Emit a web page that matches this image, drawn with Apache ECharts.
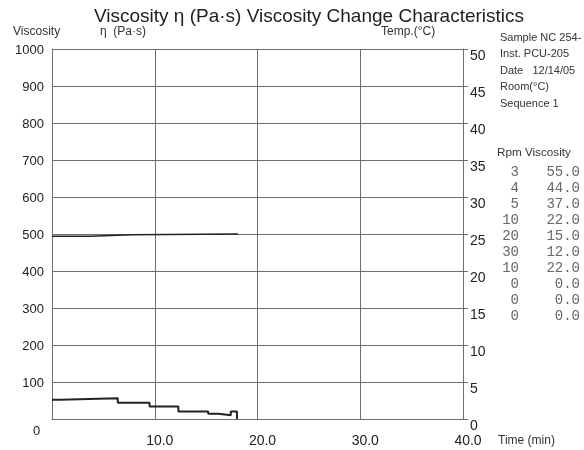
<!DOCTYPE html>
<html>
<head>
<meta charset="utf-8">
<script src="https://cdn.jsdelivr.net/npm/echarts@6/dist/echarts.min.js"></script>
<style>html,body{margin:0;padding:0;background:#fff}#c{width:584px;height:450px}</style>
</head>
<body>
<div id="c"></div>
<script>
// Viscosity step trace: change times (min) and the new viscosity (Pa·s) from that time on
var viscTime = [0, 0.8, 6.4, 9.5, 12.3, 15.2, 16.2, 17.4, 18.0];
var viscValue = [52, 56, 44, 34, 20, 14, 10, 20, 0];
// Temperature trace: change times (min) and °C
var tempTime = [0, 3.7, 7.8, 18.1];
var tempValue = [24.7, 24.9, 25.0, 25.0];
// Axis tick labels
var xTickLabels = ['', '10.0', '20.0', '30.0', '40.0'];
// Side info
var infoLines = ['Sample NC 254-', 'Inst. PCU-205', 'Date   12/14/05', 'Room(°C)', 'Sequence 1'];
var tableRpm = ['3', '4', '5', '10', '20', '30', '10', '0', '0', '0'];
var tableVisc = ['55.0', '44.0', '37.0', '22.0', '15.0', '12.0', '22.0', '0.0', '0.0', '0.0'];

function stepPoints(times, values) {
  var pts = [];
  for (var i = 0; i < times.length; i++) {
    if (i > 0) pts.push([times[i], values[i - 1]]);
    pts.push([times[i], values[i]]);
  }
  return pts;
}

var chart = echarts.init(document.getElementById('c'));
var FONT = 'Liberation Sans, Arial, sans-serif';
var MONO = 'Liberation Mono, DejaVu Sans Mono, monospace';
var gridColor = '#6e6e6e';

var graphics = [
  {type:'text', x: 309, y: 7, style:{text:'Viscosity η (Pa·s) Viscosity Change Characteristics', font:'19px ' + FONT, fill:'#1e1e1e', textAlign:'center'}},
  {type:'text', x: 13, y: 26, style:{text:'Viscosity', font:'12px ' + FONT, fill:'#333'}},
  {type:'text', x: 100, y: 26, style:{text:'η  (Pa·s)', font:'12px ' + FONT, fill:'#333'}},
  {type:'text', x: 381, y: 26, style:{text:'Temp.(°C)', font:'12px ' + FONT, fill:'#333'}},
  {type:'text', x: 33, y: 425, style:{text:'0', font:'13px ' + FONT, fill:'#222'}},
  {type:'text', x: 498, y: 435, style:{text:'Time (min)', font:'12px ' + FONT, fill:'#333'}},
  {type:'text', x: 497, y: 147, style:{text:'Rpm Viscosity', font:'11.7px ' + FONT, fill:'#333'}}
];
infoLines.forEach(function(t, i){
  graphics.push({type:'text', x: 500, y: 32 + i*16.5, style:{text:t, font:'11px ' + FONT, fill:'#333'}});
});
tableRpm.forEach(function(t, i){
  graphics.push({type:'text', x: 519, y: 165 + i*16.05, style:{text:t, font:'14px ' + MONO, fill:'#666', textAlign:'right'}});
  graphics.push({type:'text', x: 580, y: 165 + i*16.05, style:{text:tableVisc[i], font:'14px ' + MONO, fill:'#666', textAlign:'right'}});
});

chart.setOption({
  animation: false,
  backgroundColor: '#fff',
  grid: {left: 52, right: 121, top: 49, bottom: 31, show: false},
  xAxis: {
    type: 'value', min: 0, max: 40, interval: 10,
    axisLine: {show: true, lineStyle: {color: gridColor, width: 1}},
    axisTick: {show: false},
    splitLine: {show: true, lineStyle: {color: gridColor, width: 1}},
    axisLabel: {fontFamily: FONT, fontSize: 14, color: '#222', margin: 15,
      formatter: function(v){ var s = xTickLabels[Math.round(v / 10)]; return s ? '{a|' + s + '}' : ''; },
      rich: {a: {fontFamily: FONT, fontSize: 14, color: '#222', padding: [0, 0, 0, 10]}}}
  },
  yAxis: [
    {
      type: 'value', min: 0, max: 1000, interval: 100,
      axisLine: {show: true, lineStyle: {color: gridColor, width: 1}},
      axisTick: {show: false},
      splitLine: {show: true, lineStyle: {color: gridColor, width: 1}},
      axisLabel: {fontFamily: FONT, fontSize: 13, color: '#222', margin: 8,
        formatter: function(v){ return v === 0 ? '' : '{a|' + v + '}'; },
        rich: {a: {fontFamily: FONT, fontSize: 13, color: '#222', padding: [3, 0, 0, 0]}}}
    },
    {
      type: 'value', min: 0, max: 50, interval: 5, position: 'right',
      axisLine: {show: true, lineStyle: {color: gridColor, width: 1}},
      axisTick: {show: true, inside: false, length: 5, lineStyle: {color: gridColor}},
      splitLine: {show: false},
      axisLabel: {fontFamily: FONT, fontSize: 14, color: '#222', margin: 7, verticalAlign: 'top'}
    }
  ],
  series: [
    {
      type: 'line', yAxisIndex: 0, symbol: 'none',
      lineStyle: {color: '#222', width: 2},
      data: stepPoints(viscTime, viscValue)
    },
    {
      type: 'line', yAxisIndex: 1, symbol: 'none',
      lineStyle: {color: '#222', width: 1.6},
      data: stepPoints(tempTime, tempValue)
    }
  ],
  graphic: graphics
});
</script>
</body>
</html>
